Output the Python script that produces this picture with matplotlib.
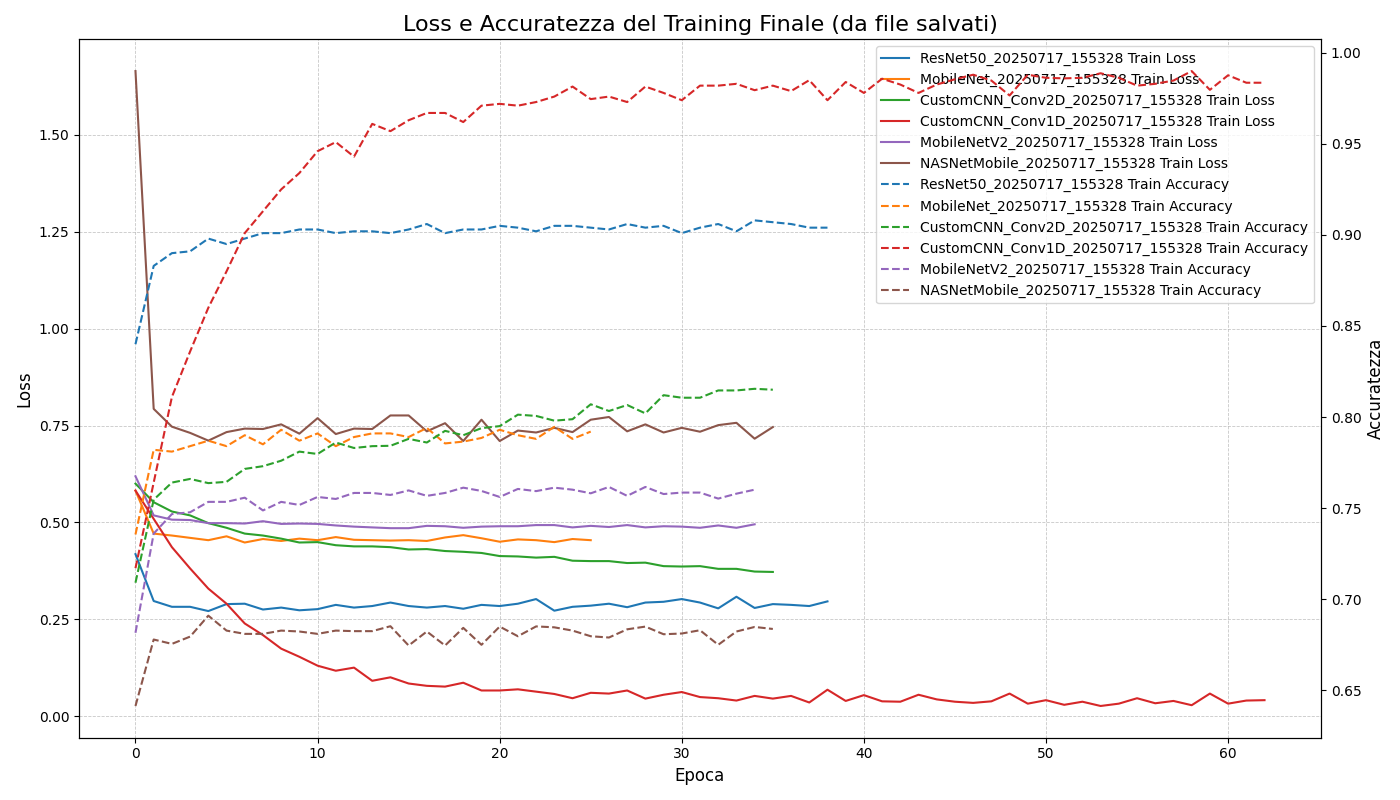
import matplotlib
matplotlib.use("Agg")
import matplotlib.pyplot as plt

models = ["ResNet50", "MobileNet", "CustomCNN_Conv2D", "CustomCNN_Conv1D", "MobileNetV2", "NASNetMobile"]
stamp = "20250717_155328"
colors = ["#1f77b4", "#ff7f0e", "#2ca02c", "#d62728", "#9467bd", "#8c564b"]

loss_resnet50 = [0.418, 0.297, 0.282, 0.282, 0.271, 0.289, 0.290, 0.275, 0.280, 0.273, 0.276, 0.287,
                 0.280, 0.284, 0.293, 0.284, 0.280, 0.284, 0.277, 0.287, 0.284, 0.290, 0.302, 0.272,
                 0.282, 0.285, 0.290, 0.281, 0.293, 0.295, 0.302, 0.293, 0.278, 0.308, 0.279, 0.289,
                 0.287, 0.284, 0.296]
loss_mobilenet = [0.582, 0.471, 0.466, 0.460, 0.454, 0.464, 0.448, 0.457, 0.452, 0.458, 0.454, 0.462,
                  0.455, 0.454, 0.453, 0.454, 0.452, 0.461, 0.467, 0.459, 0.450, 0.456, 0.454, 0.449,
                  0.457, 0.454]
loss_conv2d = [0.600, 0.552, 0.528, 0.518, 0.498, 0.486, 0.471, 0.466, 0.458, 0.448, 0.449, 0.441,
               0.438, 0.438, 0.436, 0.430, 0.431, 0.426, 0.424, 0.421, 0.413, 0.412, 0.409, 0.411,
               0.401, 0.400, 0.400, 0.395, 0.396, 0.387, 0.386, 0.387, 0.380, 0.380, 0.373, 0.372]
loss_conv1d = [0.582, 0.509, 0.436, 0.381, 0.329, 0.290, 0.239, 0.209, 0.174, 0.153, 0.130, 0.117,
               0.125, 0.091, 0.100, 0.084, 0.078, 0.076, 0.086, 0.066, 0.066, 0.069, 0.063, 0.057,
               0.046, 0.060, 0.058, 0.066, 0.045, 0.055, 0.062, 0.049, 0.046, 0.040, 0.052, 0.045,
               0.052, 0.035, 0.068, 0.039, 0.054, 0.038, 0.037, 0.055, 0.043, 0.037, 0.034, 0.038,
               0.058, 0.032, 0.041, 0.029, 0.037, 0.026, 0.032, 0.046, 0.033, 0.039, 0.028, 0.058,
               0.032, 0.040, 0.041]
loss_mobilenetv2 = [0.619, 0.518, 0.507, 0.506, 0.498, 0.498, 0.497, 0.503, 0.496, 0.497, 0.496, 0.492,
                    0.489, 0.487, 0.485, 0.485, 0.491, 0.490, 0.486, 0.489, 0.490, 0.490, 0.493, 0.493,
                    0.487, 0.491, 0.488, 0.493, 0.487, 0.490, 0.489, 0.486, 0.492, 0.486, 0.495]
loss_nasnet = [1.665, 0.793, 0.747, 0.731, 0.711, 0.733, 0.742, 0.741, 0.753, 0.729, 0.769, 0.728,
               0.742, 0.741, 0.776, 0.776, 0.735, 0.756, 0.710, 0.765, 0.710, 0.737, 0.732, 0.744,
               0.733, 0.765, 0.772, 0.735, 0.753, 0.732, 0.744, 0.734, 0.751, 0.757, 0.716, 0.746]

acc_resnet50 = [0.840, 0.883, 0.890, 0.891, 0.898, 0.895, 0.898, 0.901, 0.901, 0.903, 0.903, 0.901,
                0.902, 0.902, 0.901, 0.903, 0.906, 0.901, 0.903, 0.903, 0.905, 0.904, 0.902, 0.905,
                0.905, 0.904, 0.903, 0.906, 0.904, 0.905, 0.901, 0.904, 0.906, 0.902, 0.908, 0.907,
                0.906, 0.904, 0.904]
acc_mobilenet = [0.7355, 0.782, 0.781, 0.784, 0.787, 0.784, 0.790, 0.785, 0.793, 0.787, 0.791, 0.784,
                 0.789, 0.791, 0.791, 0.789, 0.794, 0.7855, 0.7865, 0.7885, 0.793, 0.790, 0.788, 0.7946,
                 0.788, 0.792]
acc_conv2d = [0.709, 0.7546, 0.764, 0.766, 0.7637, 0.7644, 0.7715, 0.773, 0.776, 0.781, 0.7797, 0.786,
              0.783, 0.784, 0.7842, 0.788, 0.786, 0.7924, 0.790, 0.7939, 0.795, 0.8013, 0.8006, 0.798,
              0.7988, 0.807, 0.8033, 0.8066, 0.802, 0.812, 0.8106, 0.8106, 0.8146, 0.8146, 0.8155, 0.815]
acc_conv1d = [0.717, 0.764, 0.811, 0.836, 0.860, 0.880, 0.901, 0.913, 0.925, 0.934, 0.946, 0.951,
              0.943, 0.961, 0.957, 0.963, 0.967, 0.967, 0.962, 0.971, 0.972, 0.971, 0.973, 0.976,
              0.9815, 0.9746, 0.976, 0.973, 0.9815, 0.978, 0.974, 0.982, 0.982, 0.983, 0.9795, 0.982,
              0.979, 0.985, 0.974, 0.984, 0.978, 0.9858, 0.9826, 0.978, 0.9826, 0.9855, 0.988, 0.9848,
              0.9766, 0.988, 0.9863, 0.986, 0.9863, 0.9888, 0.9863, 0.982, 0.983, 0.9848, 0.990, 0.9797,
              0.9877, 0.9836, 0.9836]
acc_mobilenetv2 = [0.6815, 0.736, 0.7467, 0.7477, 0.7534, 0.7534, 0.7557, 0.7487, 0.7534, 0.7517, 0.7561, 0.755,
                   0.7583, 0.7583, 0.7572, 0.7597, 0.7567, 0.7583, 0.7612, 0.7594, 0.7561, 0.7605, 0.7593, 0.7612,
                   0.7601, 0.7581, 0.7616, 0.7567, 0.7616, 0.7577, 0.7585, 0.7585, 0.7552, 0.7579, 0.7601]
acc_nasnet = [0.6413, 0.6778, 0.6754, 0.6794, 0.6909, 0.6827, 0.6809, 0.6809, 0.6827, 0.6822, 0.6809, 0.6827,
              0.6824, 0.6824, 0.6851, 0.6745, 0.6822, 0.6745, 0.6842, 0.6749, 0.6849, 0.6796, 0.6850, 0.6845,
              0.6827, 0.6796, 0.6789, 0.6834, 0.6849, 0.6807, 0.6811, 0.6829, 0.6749, 0.6822, 0.6847, 0.6836]

losses = [loss_resnet50, loss_mobilenet, loss_conv2d, loss_conv1d, loss_mobilenetv2, loss_nasnet]
accs = [acc_resnet50, acc_mobilenet, acc_conv2d, acc_conv1d, acc_mobilenetv2, acc_nasnet]

fig, ax1 = plt.subplots(figsize=(14, 8), dpi=100)
ax2 = ax1.twinx()

lines = []
for name, c, l in zip(models, colors, losses):
    ln, = ax1.plot(range(len(l)), l, color=c, linestyle='-', linewidth=1.5,
                   label=f"{name}_{stamp} Train Loss")
    lines.append(ln)
for name, c, a in zip(models, colors, accs):
    ln, = ax2.plot(range(len(a)), a, color=c, linestyle='--', linewidth=1.5,
                   label=f"{name}_{stamp} Train Accuracy")
    lines.append(ln)

ax1.set_xlabel("Epoca", fontsize=12)
ax1.set_ylabel("Loss", fontsize=12)
ax2.set_ylabel("Accuratezza", fontsize=12)
ax1.set_title("Loss e Accuratezza del Training Finale (da file salvati)", fontsize=16)
ax1.grid(True, linestyle='--', linewidth=0.6, alpha=0.7)
ax1.legend(lines, [ln.get_label() for ln in lines], loc='upper right', fontsize=10)

fig.tight_layout()
fig.savefig("out.png")
